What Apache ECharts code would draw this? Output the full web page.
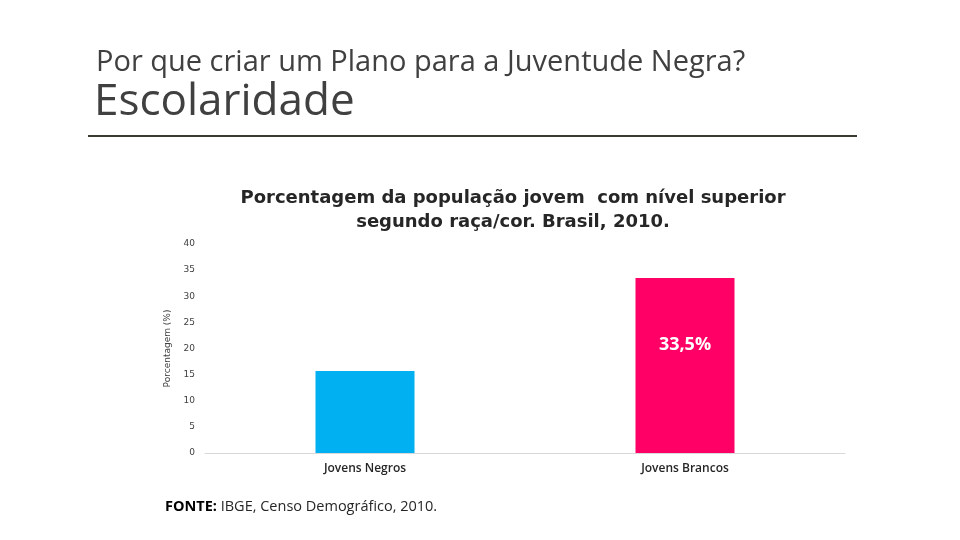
<!DOCTYPE html>
<html><head><meta charset="utf-8">
<script src="https://cdn.jsdelivr.net/npm/echarts@6/dist/echarts.min.js"></script>
<style>html,body{margin:0;padding:0;background:#fff}#c{width:960px;height:540px}</style>
</head><body><div id="c"></div>
<script>
const categories = ['Jovens Negros', 'Jovens Brancos'];
const values = [15.7, 33.5];
const barColors = ['#00b0f0', '#ff0066'];
const valueLabels = ['', '33,5%'];
const yTicks = [0, 5, 10, 15, 20, 25, 30, 35, 40];

const chart = echarts.init(document.getElementById('c'));
const F = "'Open Sans', 'Noto Sans', sans-serif";
const D = "'DejaVu Sans', sans-serif";
chart.setOption({
  animation: false,
  backgroundColor: '#fff',
  title: {
    text: 'Porcentagem da população jovem  com nível superior\nsegundo raça/cor. Brasil, 2010.',
    left: 508, top: 181, textAlign: 'center',
    textStyle: { fontFamily: D, fontSize: 18, fontWeight: 'bold', color: '#262626', lineHeight: 24 }
  },
  grid: { left: 205, right: 115, top: 244, bottom: 87 },
  xAxis: {
    type: 'category', data: categories,
    axisLine: { lineStyle: { color: '#d9d9d9' } },
    axisTick: { show: false },
    axisLabel: { fontFamily: F, fontSize: 12, fontWeight: 600, color: '#262626', margin: 10 }
  },
  yAxis: {
    type: 'value', min: yTicks[0], max: yTicks[yTicks.length - 1], interval: 5,
    name: 'Porcentagem (%)', nameLocation: 'middle', nameGap: 30, nameRotate: 90,
    nameTextStyle: { fontFamily: D, fontSize: 9, color: '#404040' },
    splitLine: { show: false },
    axisLine: { show: false }, axisTick: { show: false },
    axisLabel: { fontFamily: D, fontSize: 9, color: '#404040', margin: 10 }
  },
  series: [{
    type: 'bar', barWidth: 99,
    data: values.map((v, i) => ({
      value: v,
      itemStyle: { color: barColors[i] },
      label: {
        show: !!valueLabels[i], formatter: valueLabels[i],
        position: ['50%', '38%'], align: 'center', verticalAlign: 'middle',
        color: '#fff', fontFamily: F, fontSize: 18, fontWeight: 'bold'
      }
    }))
  }],
  graphic: [
    { type: 'text', left: 96, top: 48, style: { text: 'Por que criar um Plano para a Juventude Negra?', font: "29px 'Open Sans', sans-serif", fill: '#404040' } },
    { type: 'text', left: 94, top: 80, style: { text: 'Escolaridade', font: "44px 'Open Sans', sans-serif", fill: '#404040' } },
    { type: 'line', shape: { x1: 88, y1: 136, x2: 857, y2: 136 }, style: { stroke: '#3b3b32', lineWidth: 2 } },
    { type: 'text', left: 165, top: 499, style: {
        text: '{b|FONTE:} IBGE, Censo Demográfico, 2010.',
        rich: { b: { fontWeight: 'bold', fontFamily: F, fontSize: 14.5, fill: '#000' } },
        font: "14.5px 'Open Sans', sans-serif", fill: '#262626' } }
  ]
});
</script></body></html>
